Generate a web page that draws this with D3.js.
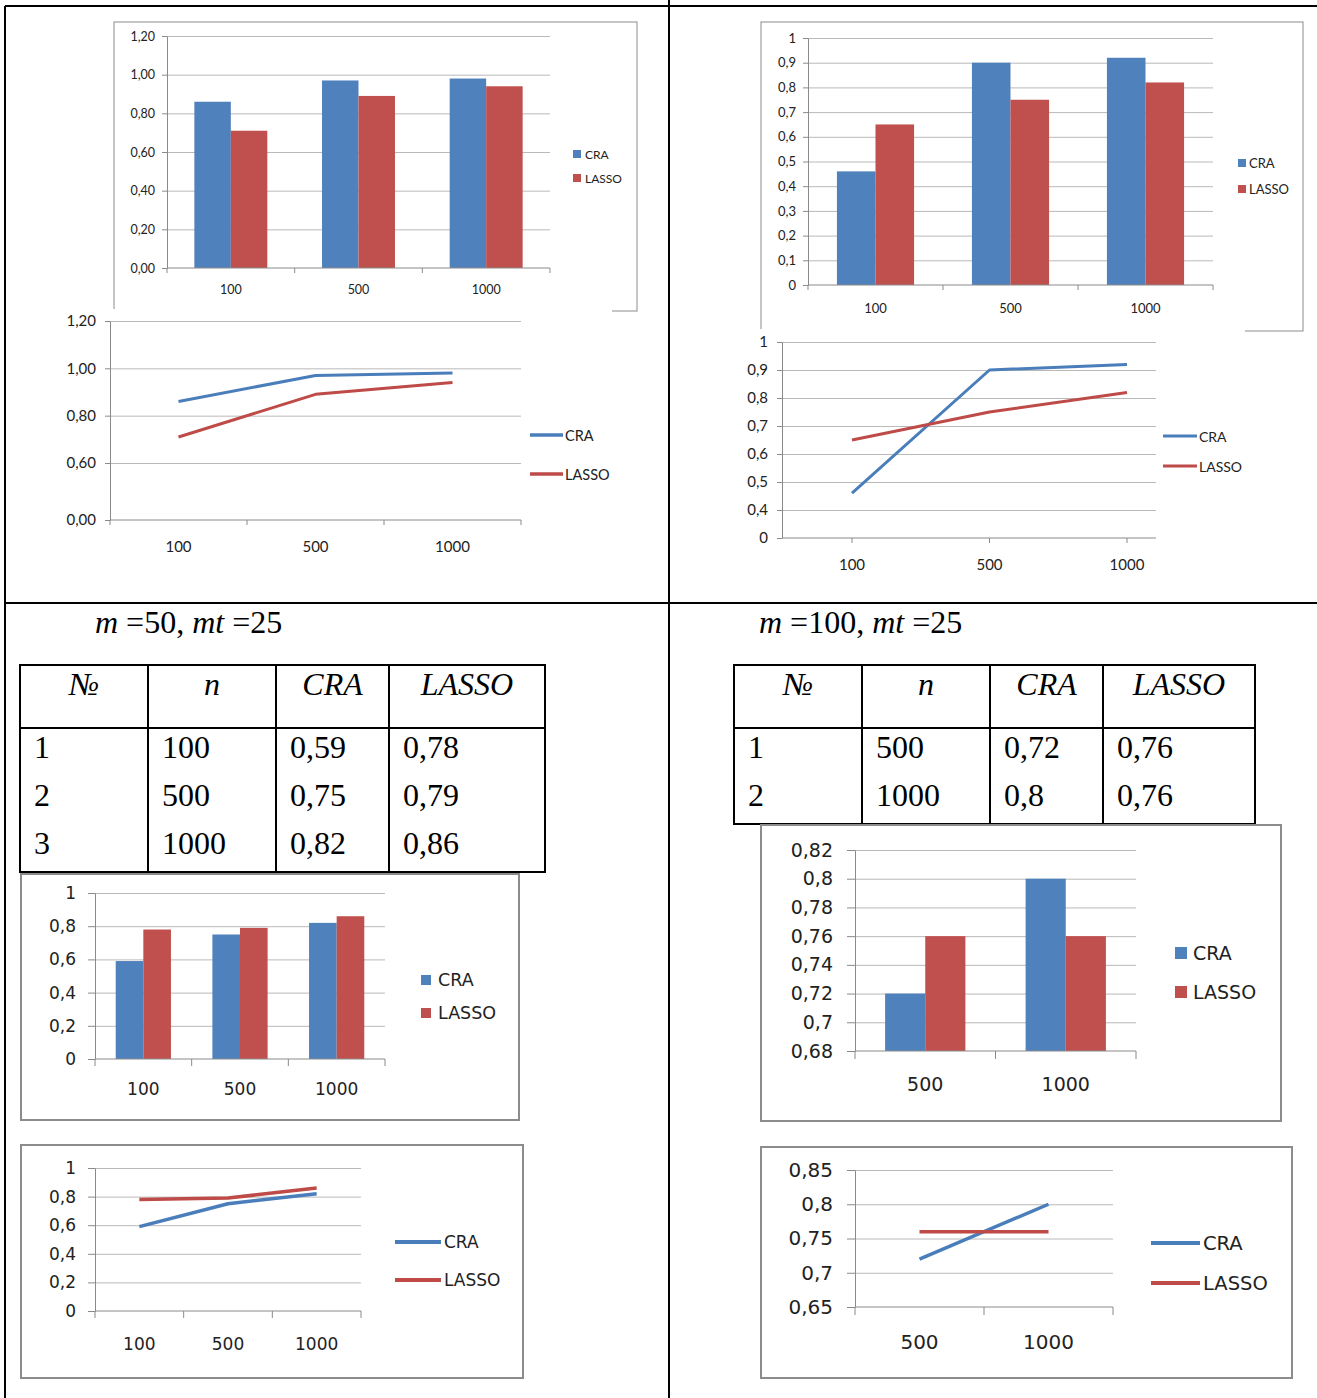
<!DOCTYPE html>
<html>
<head>
<meta charset="utf-8">
<script src="https://cdn.jsdelivr.net/npm/d3@7"></script>
<style>
  body { margin: 0; background: #fff; }
  svg { display: block; }
</style>
</head>
<body>
<svg id="page" width="1317" height="1398"></svg>
<script>
// ---- data -------------------------------------------------------------
const seriesNames = ["CRA", "LASSO"];

// top-left block
const nA = ["100", "500", "1000"];
const craA = [0.86, 0.97, 0.98];
const lassoA = [0.71, 0.89, 0.94];
// top-right block
const nB = ["100", "500", "1000"];
const craB = [0.46, 0.90, 0.92];
const lassoB = [0.65, 0.75, 0.82];
// m = 50, mt = 25
const nC = ["100", "500", "1000"];
const craC = [0.59, 0.75, 0.82];
const lassoC = [0.78, 0.79, 0.86];
// m = 100, mt = 25
const nD = ["500", "1000"];
const craD = [0.72, 0.80];
const lassoD = [0.76, 0.76];

const tableHead = ["№", "n", "CRA", "LASSO"];

// value-axis tick labels
const ticksA = [0, 0.2, 0.4, 0.6, 0.8, 1.0, 1.2];
const ticksALine = [0, 0.6, 0.8, 1.0, 1.2];
const ticksB = [0, 0.1, 0.2, 0.3, 0.4, 0.5, 0.6, 0.7, 0.8, 0.9, 1];
const ticksBLine = [0, 0.4, 0.5, 0.6, 0.7, 0.8, 0.9, 1];
const ticksC = [0, 0.2, 0.4, 0.6, 0.8, 1];
const ticksDBar = [0.68, 0.70, 0.72, 0.74, 0.76, 0.78, 0.80, 0.82];
const ticksDLine = [0.65, 0.70, 0.75, 0.80, 0.85];

// ---- styling ----------------------------------------------------------
const GRID = "#b9b9b9", AXIS = "#8a8a8a", TEXT = "#222";
const BAR_C = { CRA: "#4F81BD", LASSO: "#C0504D" };
const LINE_C = { CRA: "#4A7EBB", LASSO: "#BE4B48" };
const loc = d3.formatLocale({ decimal: ",", thousands: "\u00a0", grouping: [3], currency: ["", ""] });
const fmt2 = loc.format(".2f");
const fmtS = loc.format("~g");

const svg = d3.select("#page");
svg.append("rect").attr("width", 1317).attr("height", 1398).attr("fill", "#fff");

function frame(r, color, w) {
  svg.append("rect")
    .attr("x", r[0]).attr("y", r[1])
    .attr("width", r[2] - r[0]).attr("height", r[3] - r[1])
    .attr("fill", "#fff").attr("stroke", color).attr("stroke-width", w);
}

function cover(r) {
  svg.append("rect")
    .attr("x", r[0]).attr("y", r[1])
    .attr("width", r[2] - r[0]).attr("height", r[3] - r[1])
    .attr("fill", "#fff");
}

function styleText(sel, c) {
  sel.attr("fill", TEXT)
    .style("font-family", c.font)
    .style("font-size", c.fs + "px");
}

// gridlines behind the marks
function gridlines(g, y, c) {
  const gg = g.append("g").attr("transform", `translate(${c.x0},0)`)
    .call(d3.axisLeft(y).tickValues(c.ticks.slice(1)).tickSize(-(c.x1 - c.x0)).tickFormat(""));
  gg.select(".domain").remove();
  gg.selectAll("line").attr("stroke", GRID).attr("stroke-width", 1);
}

// value axis drawn over the marks
function valueAxis(g, y, c) {
  const ax = g.append("g").attr("transform", `translate(${c.x0},0)`)
    .call(d3.axisLeft(y).tickValues(c.ticks).tickSize(c.tickLen).tickSizeOuter(0)
      .tickPadding(c.pad).tickFormat(c.fmt));
  ax.select(".domain").attr("stroke", AXIS);
  ax.selectAll(".tick line").attr("stroke", AXIS);
  styleText(ax.selectAll("text"), c);
}

// category axis: baseline, tick marks and labels
function categoryAxis(g, x, yBase, c, tickAt) {
  g.append("line")
    .attr("x1", c.x0).attr("x2", c.x1).attr("y1", yBase).attr("y2", yBase)
    .attr("stroke", AXIS);
  g.selectAll(null).data(tickAt).join("line")
    .attr("x1", d => d).attr("x2", d => d)
    .attr("y1", yBase).attr("y2", yBase + c.xTick)
    .attr("stroke", AXIS);
  const off = x.bandwidth ? x.bandwidth() / 2 : 0;
  g.selectAll(null).data(x.domain()).join("text")
    .attr("x", d => x(d) + off).attr("y", c.catY)
    .attr("text-anchor", "middle").attr("dominant-baseline", "central")
    .text(d => d)
    .call(s => styleText(s, c));
}

function barLegend(g, c) {
  const L = c.legend;
  seriesNames.forEach((s, i) => {
    g.append("rect")
      .attr("x", L.x).attr("y", L.ys[i] - L.sq / 2)
      .attr("width", L.sq).attr("height", L.sq)
      .attr("fill", BAR_C[s]);
    g.append("text")
      .attr("x", L.tx).attr("y", L.ys[i]).attr("dominant-baseline", "central")
      .text(s)
      .call(t => styleText(t, { font: c.font, fs: L.fs }));
  });
}

function lineLegend(g, c) {
  const L = c.legend;
  seriesNames.forEach((s, i) => {
    g.append("line")
      .attr("x1", L.x1).attr("x2", L.x2).attr("y1", L.ys[i]).attr("y2", L.ys[i])
      .attr("stroke", LINE_C[s]).attr("stroke-width", L.lw);
    g.append("text")
      .attr("x", L.tx).attr("y", L.ys[i]).attr("dominant-baseline", "central")
      .text(s)
      .call(t => styleText(t, { font: c.font, fs: L.fs }));
  });
}

function barChart(c) {
  if (c.frame) frame(c.frame, "#8c8c8c", c.frameW);
  const g = svg.append("g");
  const y = d3.scaleLinear().domain(c.domain).range([c.yBot, c.yTop]);
  const x = d3.scaleBand().domain(c.cats).range([c.x0, c.x1]);
  const xs = d3.scaleBand().domain(seriesNames).range([0, x.bandwidth()])
    .paddingInner(0).paddingOuter(0.75);
  gridlines(g, y, c);
  const rows = c.cats.map((cat, i) => ({ cat, CRA: c.cra[i], LASSO: c.lasso[i] }));
  const base = c.domain[0];
  g.selectAll(null)
    .data(rows.flatMap(r => seriesNames.map(s => ({ cat: r.cat, s, v: r[s] }))))
    .join("rect")
    .attr("x", d => x(d.cat) + xs(d.s))
    .attr("width", xs.bandwidth())
    .attr("y", d => y(d.v))
    .attr("height", d => y(base) - y(d.v))
    .attr("fill", d => BAR_C[d.s]);
  const bounds = c.cats.map(d => x(d)).concat([c.x1]);
  categoryAxis(g, x, c.yBot, c, bounds);
  valueAxis(g, y, c);
  barLegend(g, c);
}

function lineChart(c) {
  if (c.frame) frame(c.frame, "#8c8c8c", c.frameW);
  if (c.cover) cover(c.cover);
  const g = svg.append("g");
  const y = d3.scaleLinear().domain(c.yDomain).range(c.yRange);
  let x, tickAt, px;
  if (c.pointRange) {
    x = d3.scalePoint().domain(c.cats).range(c.pointRange);
    tickAt = c.cats.map(d => x(d));
    px = d => x(d);
  } else {
    x = d3.scaleBand().domain(c.cats).range([c.x0, c.x1]);
    tickAt = c.cats.map(d => x(d)).concat([c.x1]);
    px = d => x(d) + x.bandwidth() / 2;
  }
  gridlines(g, y, c);
  const yBase = y.range()[0];
  const line = d3.line().x(d => px(d.cat)).y(d => y(d.v));
  const series = { CRA: c.cra, LASSO: c.lasso };
  seriesNames.forEach(s => {
    g.append("path")
      .datum(c.cats.map((cat, i) => ({ cat, v: series[s][i] })))
      .attr("d", line)
      .attr("fill", "none")
      .attr("stroke", LINE_C[s])
      .attr("stroke-width", c.lw)
      .attr("stroke-linejoin", "round");
  });
  categoryAxis(g, x, yBase, c, tickAt);
  valueAxis(g, y, c);
  lineLegend(g, c);
}

function table(cols, yTop, headH, rowH, rows, fs) {
  const g = svg.append("g");
  const yBot = yTop + headH + rowH * rows.length;
  g.append("rect")
    .attr("x", cols[0]).attr("y", yTop)
    .attr("width", cols[cols.length - 1] - cols[0]).attr("height", yBot - yTop)
    .attr("fill", "none").attr("stroke", "#000").attr("stroke-width", 2);
  g.selectAll(null).data(cols.slice(1, -1)).join("line")
    .attr("x1", d => d).attr("x2", d => d).attr("y1", yTop).attr("y2", yBot)
    .attr("stroke", "#000").attr("stroke-width", 2);
  g.append("line")
    .attr("x1", cols[0]).attr("x2", cols[cols.length - 1])
    .attr("y1", yTop + headH).attr("y2", yTop + headH)
    .attr("stroke", "#000").attr("stroke-width", 2);
  g.selectAll(null).data(tableHead).join("text")
    .attr("x", (d, i) => (cols[i] + cols[i + 1]) / 2)
    .attr("y", yTop + 30)
    .attr("text-anchor", "middle")
    .style("font-family", "'Liberation Serif', serif")
    .style("font-style", "italic")
    .style("font-size", fs + "px")
    .text(d => d);
  rows.forEach((r, ri) => {
    g.selectAll(null).data(r).join("text")
      .attr("x", (d, i) => cols[i] + 14)
      .attr("y", yTop + headH + 30 + ri * rowH)
      .style("font-family", "'Liberation Serif', serif")
      .style("font-size", fs + "px")
      .text(d => d);
  });
}

function caption(x, y, m, mt) {
  const t = svg.append("text").attr("x", x).attr("y", y)
    .style("font-family", "'Liberation Serif', serif").style("font-size", "32px");
  t.append("tspan").style("font-style", "italic").text("m");
  t.append("tspan").text(" =" + m + ", ");
  t.append("tspan").style("font-style", "italic").text("mt");
  t.append("tspan").text(" =" + mt);
}

const TOP_FONT = "Lato, 'Open Sans', sans-serif";
const LOW_FONT = "'DejaVu Sans', Verdana, sans-serif";

// ---- top-left: bars and lines ---------------------------------------
barChart({
  cats: nA, cra: craA, lasso: lassoA,
  frame: [114, 22, 637, 311], frameW: 1,
  x0: 167, x1: 550, yTop: 36, yBot: 268, domain: [0, 1.2],
  ticks: ticksA, fmt: fmt2, font: TOP_FONT, fs: 12.5,
  tickLen: 5, pad: 7, xTick: 5, catY: 289,
  legend: { sq: 8, x: 573, ys: [154, 178], tx: 585, fs: 12 }
});
lineChart({
  cats: nA, cra: craA, lasso: lassoA,
  cover: [30, 309, 612, 598],
  x0: 110, x1: 521,
  yDomain: [0, 0.6, 1.2], yRange: [520, 463, 321],
  ticks: ticksALine, fmt: fmt2, font: TOP_FONT, fs: 15,
  tickLen: 5, pad: 9, xTick: 5, catY: 546, lw: 3,
  legend: { x1: 530, x2: 563, ys: [435, 474], tx: 565, fs: 14.5, lw: 3.5 }
});

// ---- top-right: bars and lines --------------------------------------
barChart({
  cats: nB, cra: craB, lasso: lassoB,
  frame: [761, 22, 1303, 331], frameW: 1,
  x0: 808, x1: 1213, yTop: 38, yBot: 285, domain: [0, 1],
  ticks: ticksB, fmt: fmtS, font: TOP_FONT, fs: 13,
  tickLen: 5, pad: 7, xTick: 5, catY: 308,
  legend: { sq: 8, x: 1238, ys: [163, 189], tx: 1249, fs: 13 }
});
lineChart({
  cats: nB, cra: craB, lasso: lassoB,
  cover: [690, 329, 1245, 598],
  x0: 782, x1: 1156, pointRange: [852, 1127],
  yDomain: [0, 0.4, 1], yRange: [538, 510, 342],
  ticks: ticksBLine, fmt: fmtS, font: TOP_FONT, fs: 15,
  tickLen: 5, pad: 9, xTick: 5, catY: 564, lw: 3,
  legend: { x1: 1163, x2: 1197, ys: [436, 466], tx: 1199, fs: 14, lw: 3 }
});

// ---- captions and tables --------------------------------------------
caption(95, 633, 50, 25);
caption(759, 633, 100, 25);

table([20, 148, 276, 389, 545], 665, 63, 48,
  nC.map((n, i) => [String(i + 1), n, fmtS(craC[i]), fmtS(lassoC[i])]), 32);
table([734, 862, 990, 1103, 1255], 665, 63, 48,
  nD.map((n, i) => [String(i + 1), n, fmtS(craD[i]), fmtS(lassoD[i])]), 32);

// ---- bottom-left: m = 50 --------------------------------------------
barChart({
  cats: nC, cra: craC, lasso: lassoC,
  frame: [21, 874, 519, 1120], frameW: 2,
  x0: 95, x1: 385, yTop: 893, yBot: 1059, domain: [0, 1],
  ticks: ticksC, fmt: fmtS, font: LOW_FONT, fs: 17,
  tickLen: 7, pad: 12, xTick: 7, catY: 1089,
  legend: { sq: 10, x: 421, ys: [980, 1013], tx: 438, fs: 17.5 }
});
lineChart({
  cats: nC, cra: craC, lasso: lassoC,
  frame: [21, 1145, 523, 1378], frameW: 2,
  x0: 95, x1: 361,
  yDomain: [0, 1], yRange: [1311, 1168],
  ticks: ticksC, fmt: fmtS, font: LOW_FONT, fs: 17,
  tickLen: 7, pad: 12, xTick: 7, catY: 1344, lw: 3.5,
  legend: { x1: 395, x2: 441, ys: [1242, 1280], tx: 444, fs: 17, lw: 4 }
});

// ---- bottom-right: m = 100 ------------------------------------------
barChart({
  cats: nD, cra: craD, lasso: lassoD,
  frame: [761, 825, 1281, 1121], frameW: 2,
  x0: 855, x1: 1136, yTop: 850, yBot: 1051, domain: [0.68, 0.82],
  ticks: ticksDBar, fmt: fmtS, font: LOW_FONT, fs: 19,
  tickLen: 8, pad: 14, xTick: 8, catY: 1084,
  legend: { sq: 12, x: 1175, ys: [953, 992], tx: 1193, fs: 19 }
});
lineChart({
  cats: nD, cra: craD, lasso: lassoD,
  frame: [761, 1147, 1292, 1378], frameW: 2,
  x0: 855, x1: 1113,
  yDomain: [0.65, 0.85], yRange: [1307, 1170],
  ticks: ticksDLine, fmt: fmtS, font: LOW_FONT, fs: 20,
  tickLen: 8, pad: 14, xTick: 8, catY: 1342, lw: 3.5,
  legend: { x1: 1151, x2: 1200, ys: [1243, 1283], tx: 1203, fs: 19.5, lw: 4 }
});

// ---- page grid ------------------------------------------------------
const rules = [
  [5, 6, 1317, 6], [5, 6, 5, 1398], [669, 0, 669, 1398], [5, 603, 1317, 603]
];
svg.append("g").selectAll("line").data(rules).join("line")
  .attr("x1", d => d[0]).attr("y1", d => d[1]).attr("x2", d => d[2]).attr("y2", d => d[3])
  .attr("stroke", "#000").attr("stroke-width", 2);
</script>
</body>
</html>
